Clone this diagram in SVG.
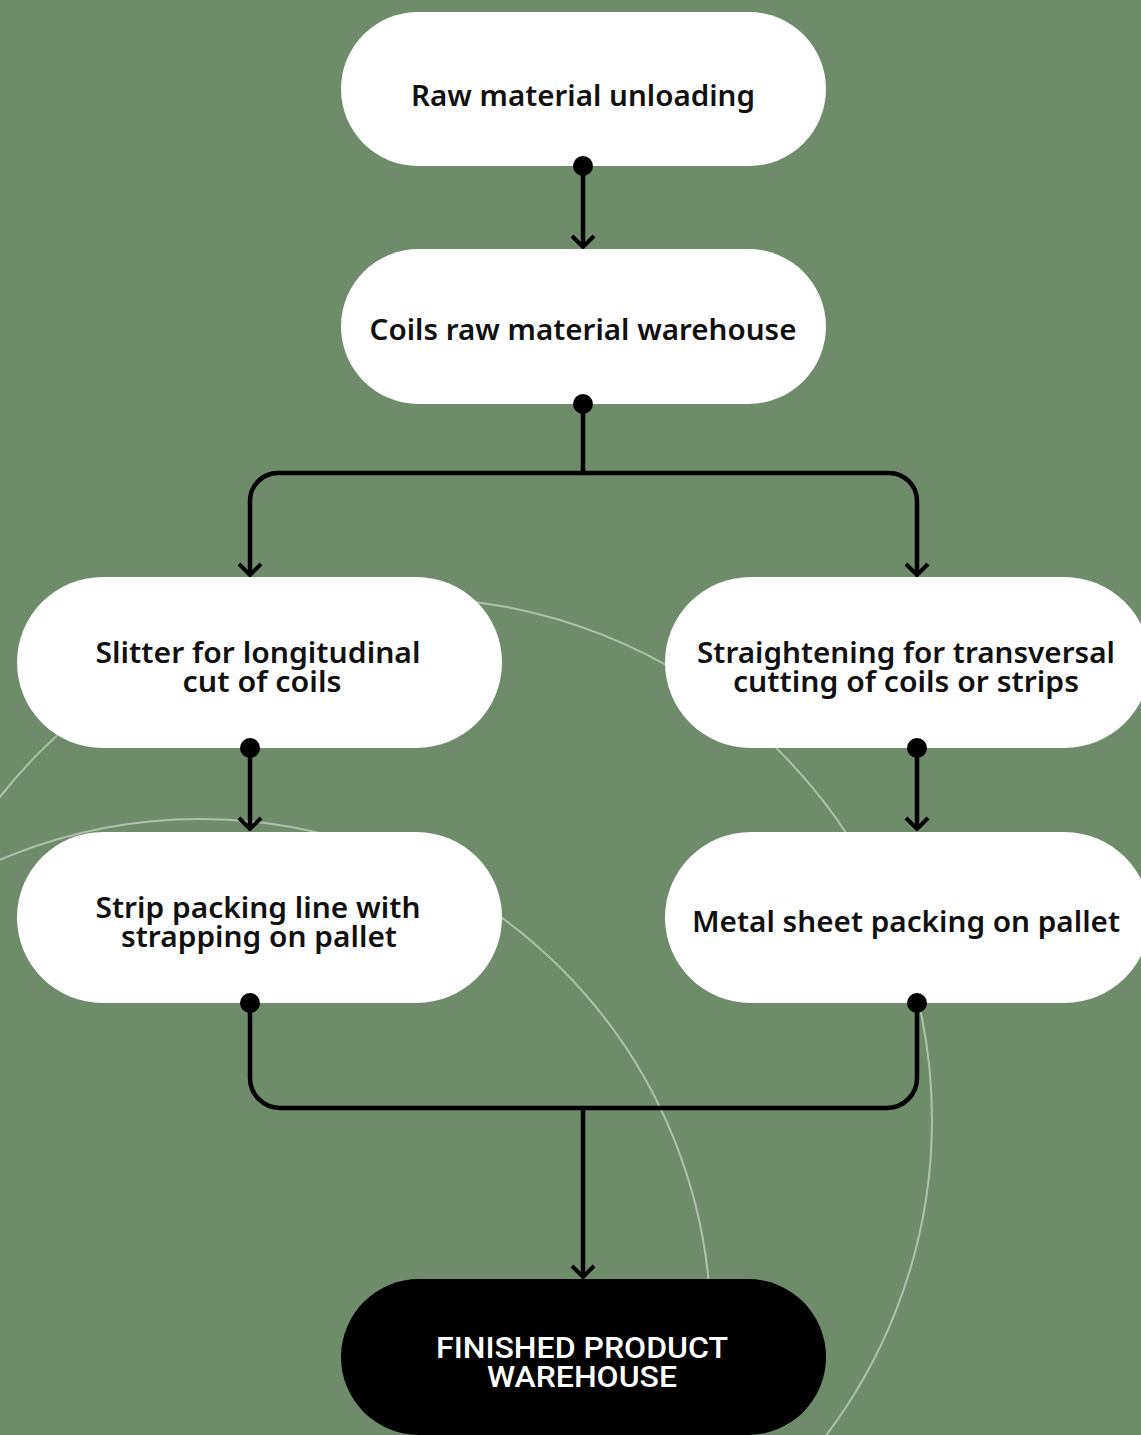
<svg xmlns="http://www.w3.org/2000/svg" width="1141" height="1435" viewBox="0 0 1141 1435">
  <defs>
    <marker id="chev" markerUnits="userSpaceOnUse" viewBox="-14 -14 16 28" markerWidth="16" markerHeight="28" refX="0" refY="0" orient="auto">
      <path d="M-11,-11 L0,0 L-11,11" fill="none" stroke="#000" stroke-width="4"/>
    </marker>
    <style>
      .bgarc { fill: none; stroke: #ffffff; stroke-opacity: 0.45; stroke-width: 2; }
      .node { fill: #ffffff; }
      .term { fill: #000000; }
      .lbl { font-family: "Noto Sans", "Open Sans", sans-serif; font-weight: 600; font-size: 28px; fill: #111; text-anchor: middle; }
      .tlbl { font-family: "Roboto", "Liberation Sans", sans-serif; font-weight: 500; font-size: 29px; fill: #fff; text-anchor: middle; }
      .conn { fill: none; stroke: #000; stroke-width: 4.5; }
      .dot { fill: #000; }
    </style>
  </defs>
  <rect x="0" y="0" width="1141" height="1435" fill="#6f8b6c"/>
  <g id="background-arcs">
    <circle class="bgarc" cx="410" cy="1120" r="522"/>
    <circle class="bgarc" cx="200" cy="1330" r="511"/>
  </g>
  <g id="node-raw-unloading">
    <rect class="node" x="341" y="12" width="485" height="154" rx="77"/>
    <text class="lbl" x="583" y="106" textLength="344" lengthAdjust="spacingAndGlyphs">Raw material unloading</text>
  </g>
  <g id="node-coils-warehouse">
    <rect class="node" x="341" y="249" width="485" height="155" rx="77.5"/>
    <text class="lbl" x="583" y="340" textLength="427" lengthAdjust="spacingAndGlyphs">Coils raw material warehouse</text>
  </g>
  <g id="node-slitter">
    <rect class="node" x="17" y="577" width="485" height="171" rx="85.5"/>
    <text class="lbl" x="258" y="663" textLength="325" lengthAdjust="spacingAndGlyphs">Slitter for longitudinal</text>
    <text class="lbl" x="262" y="692" textLength="159" lengthAdjust="spacingAndGlyphs">cut of coils</text>
  </g>
  <g id="node-straightening">
    <rect class="node" x="665" y="577" width="485" height="171" rx="85.5"/>
    <text class="lbl" x="906" y="663" textLength="418" lengthAdjust="spacingAndGlyphs">Straightening for transversal</text>
    <text class="lbl" x="906" y="692" textLength="346" lengthAdjust="spacingAndGlyphs">cutting of coils or strips</text>
  </g>
  <g id="node-strip-packing">
    <rect class="node" x="17" y="832" width="485" height="171" rx="85.5"/>
    <text class="lbl" x="258" y="918" textLength="325" lengthAdjust="spacingAndGlyphs">Strip packing line with</text>
    <text class="lbl" x="259" y="947" textLength="276" lengthAdjust="spacingAndGlyphs">strapping on pallet</text>
  </g>
  <g id="node-metal-sheet">
    <rect class="node" x="665" y="832" width="485" height="171" rx="85.5"/>
    <text class="lbl" x="906" y="932" textLength="428" lengthAdjust="spacingAndGlyphs">Metal sheet packing on pallet</text>
  </g>
  <g id="node-finished">
    <rect class="term" x="341" y="1279" width="485" height="156" rx="78"/>
    <text class="tlbl" x="582" y="1358" textLength="292" lengthAdjust="spacingAndGlyphs">FINISHED PRODUCT</text>
    <text class="tlbl" x="582" y="1387" textLength="190" lengthAdjust="spacingAndGlyphs">WAREHOUSE</text>
  </g>
  <g id="connectors">
    <path class="conn" d="M583,166 V247" marker-end="url(#chev)"/>
    <path class="conn" d="M583,404 V473"/>
    <path class="conn" d="M583,473 H278 A28,28 0 0 0 250,501 V575" marker-end="url(#chev)"/>
    <path class="conn" d="M583,473 H889 A28,28 0 0 1 917,501 V575" marker-end="url(#chev)"/>
    <path class="conn" d="M250,748 V829" marker-end="url(#chev)"/>
    <path class="conn" d="M917,748 V829" marker-end="url(#chev)"/>
    <path class="conn" d="M250,1003 V1078 A30,30 0 0 0 280,1108 H887 A30,30 0 0 0 917,1078 V1003"/>
    <path class="conn" d="M583,1108 V1277" marker-end="url(#chev)"/>
    <circle class="dot" cx="583" cy="166" r="10"/>
    <circle class="dot" cx="583" cy="404" r="10"/>
    <circle class="dot" cx="250" cy="748" r="10"/>
    <circle class="dot" cx="917" cy="748" r="10"/>
    <circle class="dot" cx="250" cy="1003" r="10"/>
    <circle class="dot" cx="917" cy="1003" r="10"/>
  </g>
</svg>
